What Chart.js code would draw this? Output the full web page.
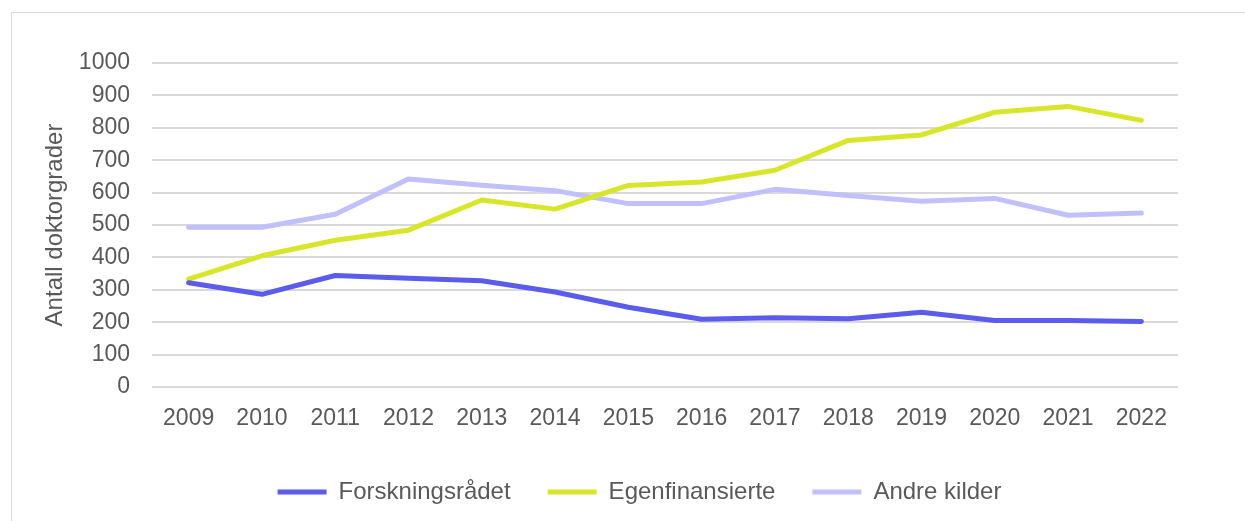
<!DOCTYPE html>
<html>
<head>
<meta charset="utf-8">
<script src="https://cdn.jsdelivr.net/npm/chart.js@4.4.1/dist/chart.umd.min.js"></script>
<style>
  body { margin: 0; background: #fff; overflow: hidden; }
  #wrap {
    position: absolute; left: 11px; top: 12px;
    width: 1240px; height: 515px;
    border: 1px solid #d9d9d9;
  }
  canvas { display: block; }
</style>
</head>
<body>
<div id="wrap"><canvas id="chart" width="1240" height="515"></canvas></div>
<script>
const years = ['2009', '2010', '2011', '2012', '2013', '2014', '2015', '2016', '2017', '2018', '2019', '2020', '2021', '2022'];
const forskningsradet = [322, 286, 344, 336, 328, 293, 246, 209, 214, 211, 231, 205, 205, 202];
const egenfinansierte = [333, 405, 453, 484, 577, 549, 622, 633, 669, 761, 778, 848, 866, 823];
const andreKilder = [493, 493, 533, 642, 623, 606, 566, 566, 610, 591, 573, 582, 530, 537];

const textColor = '#595959'
const fontFamily = '"Liberation Sans", Arial, sans-serif'

const ctx = document.getElementById('chart').getContext('2d');

const makeSet = function (label, data, color) {
  return {
    label: label,
    data: data,
    borderColor: color,
    backgroundColor: color,
    borderWidth: 5,
    pointRadius: 0,
    tension: 0,
    borderCapStyle: 'round',
    borderJoinStyle: 'round'
  }
}

// legend sits a bit right of the canvas centre in the original
const legendShift = {
  id: 'legendShift',
  beforeDraw: function (chart) {
    if (chart.legend && !chart.legend._shifted) {
      chart.legend.left += 30
      chart.legend.right += 30
      chart.legend._shifted = true
    }
  }
}

new Chart(ctx, {
  type: 'line',
  data: {
    labels: years,
    datasets: [
      makeSet('Forskningsrådet', forskningsradet, '#5b5bec'),
      makeSet('Egenfinansierte', egenfinansierte, '#d7e62b'),
      makeSet('Andre kilder', andreKilder, '#c0c0fc')
    ]
  },
  options: {
    responsive: false,
    animation: false,
    devicePixelRatio: 1,
    layout: { padding: { left: 29, right: 74, top: 50, bottom: 14 } },
    plugins: {
      tooltip: { enabled: false },
      legend: {
        position: 'bottom',
        labels: {
          color: textColor,
          font: { family: fontFamily, size: 24 },
          boxWidth: 49,
          boxHeight: 5,
          padding: 37,
          generateLabels: function (chart) {
            const items = Chart.defaults.plugins.legend.labels.generateLabels(chart)
            items.forEach(function (item) { item.lineWidth = 0 })
            return items
          }
        }
      }
    },
    scales: {
      x: {
        offset: true,
        grid: { display: false, drawTicks: false },
        border: { display: false },
        ticks: { color: textColor, font: { family: fontFamily, size: 23 }, padding: 18, maxRotation: 0 },
        afterFit: function (scale) { scale.height = 56 }
      },
      y: {
        min: 0,
        max: 1000,
        ticks: {
          stepSize: 100,
          color: textColor,
          font: { family: fontFamily, size: 23 },
          padding: 22,
          callback: function (value) { return String(value) }
        },
        grid: { color: '#d9d9d9', lineWidth: 2, drawTicks: false },
        border: { display: false },
        title: {
          display: true,
          text: 'Antall doktorgrader',
          color: textColor,
          font: { family: fontFamily, size: 24 },
          padding: 0
        },
        afterFit: function (scale) { scale.width = 111 }
      }
    }
  },
  plugins: [legendShift]
});
</script>
</body>
</html>
